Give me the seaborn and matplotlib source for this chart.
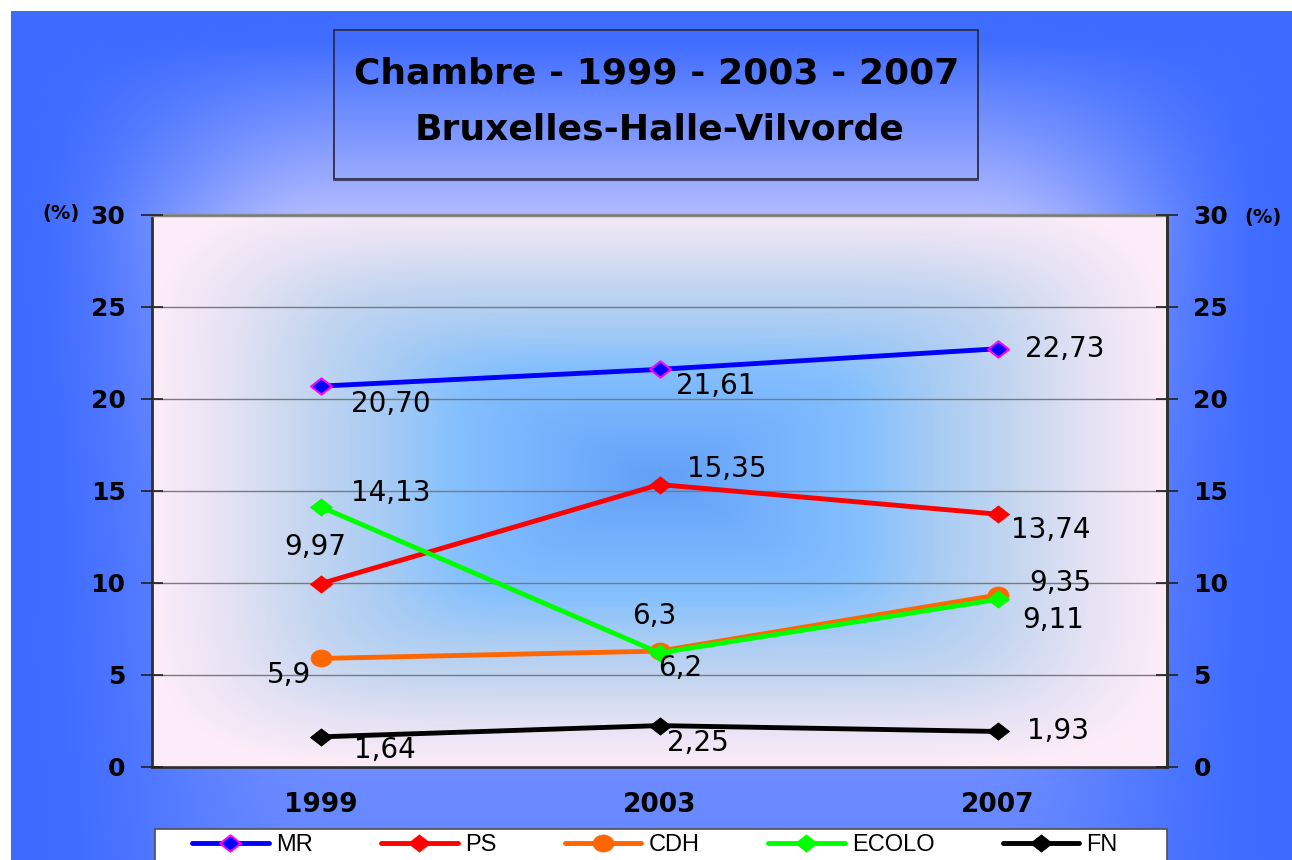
import numpy as np
import seaborn as sns
import matplotlib.pyplot as plt
from matplotlib.patches import Rectangle
from matplotlib.path import Path
from matplotlib.transforms import Affine2D
from matplotlib.colors import LinearSegmentedColormap

sns.set_style("white")
plt.rcParams['font.family'] = ['DejaVu Sans']
plt.rcParams['text.color'] = 'black'
plt.rcParams['xtick.color'] = 'black'
plt.rcParams['ytick.color'] = 'black'

# data
years = ["1999", "2003", "2007"]
parties = ["MR", "PS", "CDH", "ECOLO", "FN"]
mr = [20.70, 21.61, 22.73]
ps = [9.97, 15.35, 13.74]
cdh = [5.9, 6.3, 9.35]
ecolo = [14.13, 6.2, 9.11]
fn = [1.64, 2.25, 1.93]
mr_labels = ["20,70", "21,61", "22,73"]
ps_labels = ["9,97", "15,35", "13,74"]
cdh_labels = ["5,9", "6,3", "9,35"]
ecolo_labels = ["14,13", "6,2", "9,11"]
fn_labels = ["1,64", "2,25", "1,93"]
y_ticks = [0, 5, 10, 15, 20, 25, 30]

series = [mr, ps, cdh, ecolo, fn]
labels = [mr_labels, ps_labels, cdh_labels, ecolo_labels, fn_labels]

# styling
colors = ["#0000ff", "#ff0000", "#ff6600", "#00ff00", "#000000"]
edges = ["#ff00ff", "#ff0000", "#ff6600", "#00ff00", "#000000"]
diamond = Path([(-1, 0), (0, 0.78), (1, 0), (0, -0.78), (-1, 0)],
               [Path.MOVETO, Path.LINETO, Path.LINETO, Path.LINETO, Path.CLOSEPOLY])
ellipse = Path.unit_circle().transformed(Affine2D().scale(1, 0.82))
markers = [diamond, diamond, ellipse, diamond, diamond]
msizes = [15, 16, 15, 16, 16]
# label offsets in pixels (dx, dy)
offsets = [
    [(70, -18), (56, -17), (67, 0)],
    [(-6, 37), (67, 16), (53, -16)],
    [(-32, -17), (-5, 35), (62, 12)],
    [(70, 14), (21, -15), (55, -21)],
    [(64, -13), (38, -17), (60, 0)],
]

W, H = 1292, 860
fig = plt.figure(figsize=(W / 100, H / 100), dpi=100)

# figure background gradient
bg = fig.add_axes([0, 0, 1, 1], zorder=-2)
X, Y = np.meshgrid(np.arange(W) + 0.5, np.arange(H) + 0.5)
u = np.abs(X - 651) / 641
wx = np.clip((1 - u) / 0.5, 0, 1)
wx = wx * wx * (3 - 2 * wx)
wy = np.interp(Y, [0, 40, 215, 500, 860], [0, 0.02, 0.95, 0.55, 0.33])
w = (wx * wy)[..., None]
base = np.array([0.24, 0.42, 1.0])
light = np.array([0.72, 0.75, 1.0])
img = base * (1 - w) + light * w
img[(X < 11) | (Y < 11)] = 1.0
bg.imshow(img, extent=(0, W, H, 0), interpolation="bilinear")
bg.set_xlim(0, W)
bg.set_ylim(H, 0)
bg.axis("off")

# title box
bg.add_patch(Rectangle((334, 30), 644, 149, fill=False, ec="#2c2c48", lw=1.3))
bg.plot([334, 978], [180, 180], color="#404060", lw=1.5)
bg.text(657, 73, "Chambre - 1999 - 2003 - 2007", ha="center", va="center",
        fontsize=26, fontweight="bold")
bg.text(660, 129, "Bruxelles-Halle-Vilvorde", ha="center", va="center",
        fontsize=26, fontweight="bold")
bg.text(61, 213, "(%)", ha="center", va="center", fontsize=14, fontweight="bold")
bg.text(1263, 218, "(%)", ha="center", va="center", fontsize=14, fontweight="bold")

# legend box
bg.add_patch(Rectangle((155, 829), 1012, 60, fc="white", ec="#505050", lw=1.2))

# main axes
ax = fig.add_axes([152 / W, 1 - 767 / H, (1167 - 152) / W, (767 - 215) / H])
ax.set_xlim(-0.5, 2.5)
ax.set_ylim(0, 30)

# plot-area gradient
gx, gy = np.meshgrid(np.linspace(-0.5, 2.5, 300), np.linspace(0, 30, 200))
du = np.abs(gx - 1.0) / 1.5
dv = np.abs(gy - 15.5) / 15.5
d = (du ** 6 + dv ** 6) ** (1 / 6)
d = np.clip(d, 0, 1)
cmap = LinearSegmentedColormap.from_list("area", [
    (0.0, "#62a0f8"), (0.2, "#74b0fc"), (0.4, "#84c0fe"),
    (0.55, "#a8ccf4"), (0.7, "#c4d6f0"), (0.85, "#e4e2f4"), (1.0, "#fcecf8")])
ax.imshow(d, extent=(-0.5, 2.5, 0, 30), origin="lower", aspect="auto",
          cmap=cmap, vmin=0, vmax=1, zorder=0, interpolation="bilinear")

x_pos = np.arange(len(years))
for vals, col, ec, mk, ms in zip(series, colors, edges, markers, msizes):
    sns.lineplot(x=x_pos, y=vals, ax=ax, color=col, lw=3.5, marker=mk,
                 markersize=ms, markeredgecolor=ec, markerfacecolor=col,
                 markeredgewidth=1.5 if ec != col else 0.5, legend=False,
                 zorder=3)

for vals, labs, offs in zip(series, labels, offsets):
    for xi, v, lab, off in zip(x_pos, vals, labs, offs):
        ax.annotate(lab, (xi, v), xytext=off, textcoords="offset pixels",
                    ha="center", va="center", fontsize=20, zorder=4)

ax.set_xlim(-0.5, 2.5)
ax.set_ylim(0, 30)
ax.set_yticks(y_ticks)
ax.set_yticklabels([str(t) for t in y_ticks], fontsize=18, fontweight="bold")
ax.set_xticks(x_pos)
ax.set_xticklabels(years, fontsize=19, fontweight="bold")
ax.set_xticks([-0.5, 0.5, 1.5, 2.5], minor=True)
ax.tick_params(axis="x", which="major", length=0, pad=18)
ax.tick_params(axis="x", which="minor", direction="inout", length=12,
               width=1, color="#202020")
ax.tick_params(axis="y", direction="inout", length=16, width=1.2,
               color="#202020", pad=11, left=True)
ax.yaxis.grid(True, color="#7a7a7a", lw=1)
ax.xaxis.grid(False)
ax.set_axisbelow(False)
for gl in ax.get_ygridlines():
    gl.set_zorder(1)
for side in ["left", "right", "bottom"]:
    ax.spines[side].set_color("#303030")
    ax.spines[side].set_linewidth(2)
ax.spines["top"].set_color("#8a8a8a")
ax.spines["top"].set_linewidth(2.5)
ax.set_xlabel("")
ax.set_ylabel("")

ax2 = ax.twinx()
ax2.set_ylim(0, 30)
ax2.set_yticks(y_ticks)
ax2.set_yticklabels([str(t) for t in y_ticks], fontsize=18, fontweight="bold")
ax2.tick_params(axis="y", direction="inout", length=16, width=1.2,
                color="#202020", pad=11, right=True)
ax2.spines["right"].set_color("#303030")
ax2.spines["right"].set_linewidth(2)
for side in ["left", "top", "bottom"]:
    ax2.spines[side].set_visible(False)

# legend
fig.legend(ax.get_lines()[:len(parties)], parties, loc="center left",
           bbox_to_anchor=(180 / W, 1 - 845 / H), ncol=5, frameon=False,
           borderpad=0, handlelength=3.25, handletextpad=0.3,
           columnspacing=2.9, prop={"family": "Liberation Sans", "size": 17})

fig.savefig("out.png", dpi=100)
